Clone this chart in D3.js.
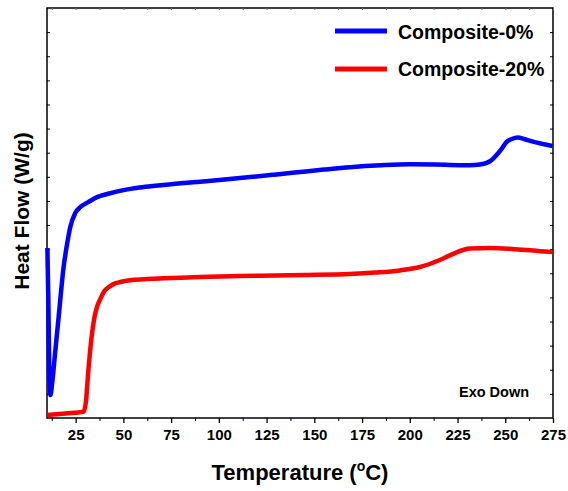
<!DOCTYPE html>
<html><head><meta charset="utf-8">
<script src="https://cdn.jsdelivr.net/npm/d3@7"></script>
<style>body{margin:0;background:#fff}svg{display:block}text{font-family:"Liberation Sans",Arial,sans-serif;font-weight:bold;fill:#000}</style>
</head><body>
<svg id="c" width="568" height="491"></svg>
<script>
const xTicks = [25,50,75,100,125,150,175,200,225,250,275];
const seriesNames = ["Composite-0%","Composite-20%"];
const seriesColors = ["#0000ff","#ff0000"];
const tempBlue = [10.2,10.7,11.2,11.8,12.7,14.4,16.1,18.7,20.5,22.2,24.8,27.5,31.6,36.2,42.1,49.4,60,70.9,80,90.2,103,116.4,129,142.5,155,168.7,185,200,213,226.2,231.4,236.7,240.3,242.9,245.4,248,250.6,253.4,256.7,259.7,264.5,269.6,274.8];
const flowBlue = [7.05,4.89,1.99,0.95,1.45,2.82,4.19,6.26,7.2,7.92,8.50,8.75,8.95,9.16,9.30,9.44,9.57,9.66,9.73,9.80,9.89,9.99,10.09,10.20,10.30,10.40,10.48,10.52,10.51,10.48,10.48,10.51,10.58,10.70,10.90,11.15,11.44,11.57,11.63,11.57,11.46,11.36,11.28];
const tempRed = [10.2,19.6,29.2,30.3,31.8,33.6,34.8,36.2,37.9,40.5,42.6,44.9,48.4,53.6,70.9,90,105.9,121.6,145,168.7,182,194.8,205.3,215.7,223.6,231.4,241.9,255,274.8];
const flowRed = [0.12,0.19,0.26,0.62,2.11,3.52,4.15,4.61,4.93,5.31,5.44,5.56,5.64,5.71,5.79,5.85,5.88,5.90,5.93,5.97,6.03,6.12,6.26,6.55,6.84,7.03,7.05,7.0,6.88];

const svg = d3.select("#c");
const L=47, R=553, T=8, B=418;
const x = d3.scaleLinear().domain([10,275]).range([L,R]);
const y = d3.scaleLinear().domain([0,17]).range([B,T]);

svg.append("rect").attr("x",L).attr("y",T).attr("width",R-L).attr("height",B-T)
  .attr("fill","none").attr("stroke","#000").attr("stroke-width",1.5);

const minor = d3.range(12.5,276,12.5);
const bx = svg.append("g").attr("transform",`translate(0,${B})`)
  .call(d3.axisBottom(x).tickValues(xTicks).tickSize(5).tickPadding(6).tickFormat(d3.format("d")));
bx.select(".domain").remove();
bx.selectAll("line").attr("stroke-width",1.3);
bx.selectAll("text").attr("font-size",15).attr("font-family","Liberation Sans").attr("font-weight","bold");
svg.append("g").attr("transform",`translate(0,${B})`)
  .call(d3.axisBottom(x).tickValues(minor.filter(v=>v%25!==0)).tickSize(3).tickFormat(""))
  .call(g=>g.select(".domain").remove());
svg.append("g").attr("transform",`translate(0,${T})`)
  .call(d3.axisBottom(x).tickValues(minor).tickSize(2).tickFormat(""))
  .call(g=>g.select(".domain").remove()).selectAll("line").attr("stroke","#666");
const yT = d3.range(1,17,1);
svg.append("g").attr("transform",`translate(${L},0)`)
  .call(d3.axisRight(y).tickValues(yT).tickSize(3).tickFormat(""))
  .call(g=>g.select(".domain").remove());
svg.append("g").attr("transform",`translate(${R},0)`)
  .call(d3.axisLeft(y).tickValues(yT).tickSize(3).tickFormat(""))
  .call(g=>g.select(".domain").remove());

const line = d3.line().x(d=>x(d[0])).y(d=>y(d[1])).curve(d3.curveMonotoneX);
const blue = tempBlue.map((t,i)=>[t,flowBlue[i]]);
const red = tempRed.map((t,i)=>[t,flowRed[i]]);
svg.append("path").datum(red).attr("d",line).attr("fill","none").attr("stroke",seriesColors[1]).attr("stroke-width",4.5).attr("stroke-linejoin","round");
svg.append("path").datum(blue).attr("d",line).attr("fill","none").attr("stroke",seriesColors[0]).attr("stroke-width",4.5).attr("stroke-linejoin","round");

const lg = [[31,38.5],[69,76]];
seriesNames.forEach((n,i)=>{
  svg.append("line").attr("x1",335).attr("x2",387).attr("y1",lg[i][0]).attr("y2",lg[i][0]).attr("stroke",seriesColors[i]).attr("stroke-width",5);
  svg.append("text").attr("x",398).attr("y",lg[i][1]).attr("font-size",19.5).text(n);
});

svg.append("text").attr("x",459).attr("y",397).attr("font-size",14.5).text("Exo Down");

const xt = svg.append("text").attr("x",300).attr("y",480).attr("text-anchor","middle").attr("font-size",22);
xt.append("tspan").text("Temperature (");
xt.append("tspan").attr("font-size",14).attr("dy",-9).text("o");
xt.append("tspan").attr("dy",9).text("C)");

svg.append("text").attr("transform","translate(29,211) rotate(-90)").attr("text-anchor","middle").attr("font-size",21).text("Heat Flow (W/g)");
</script>
</body></html>
